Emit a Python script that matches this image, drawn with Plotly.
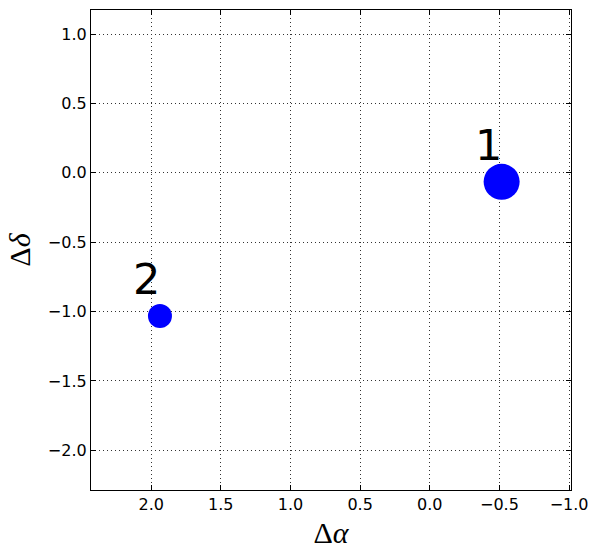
import plotly.graph_objects as go

# Data
labels = ["1", "2"]
delta_alpha = [-0.516, 1.937]
delta_delta = [-0.065, -1.032]
marker_diam = [36, 24]

x_ticks = [2.0, 1.5, 1.0, 0.5, 0.0, -0.5, -1.0]
y_ticks = [1.0, 0.5, 0.0, -0.5, -1.0, -1.5, -2.0]

fig = go.Figure()
fig.add_trace(go.Scatter(
    x=delta_alpha, y=delta_delta, mode="markers",
    marker=dict(size=marker_diam, color="#0000FF", opacity=1, line=dict(width=0)),
    opacity=1, showlegend=False, cliponaxis=False,
))

for lab, xv, yv in zip(labels, delta_alpha, delta_delta):
    fig.add_annotation(
        x=xv, y=yv, text=lab, showarrow=False,
        xanchor="left", yanchor="bottom",
        xshift=-29, yshift=10,
        font=dict(family="DejaVu Sans", size=43, color="black"),
    )

axis_common = dict(
    showline=True, linecolor="black", linewidth=1.2, mirror="allticks",
    ticks="inside", ticklen=5, tickwidth=1, tickcolor="black",
    showgrid=True, gridcolor="#333333", gridwidth=1, griddash="1px,3px",
    zeroline=False, tickformat=".1f",
    tickfont=dict(family="DejaVu Sans", size=16, color="black"),
)

fig.update_xaxes(
    range=[2.432, -1.014], tickvals=x_ticks,
    title=dict(text="Δ<i>α</i>", font=dict(family="Liberation Serif", size=30, color="black"), standoff=8),
    **axis_common,
)
fig.update_yaxes(
    range=[-2.286, 1.173], tickvals=y_ticks,
    title=dict(text="Δ<i>δ</i>", font=dict(family="Liberation Serif", size=30, color="black"), standoff=8),
    **axis_common,
)

fig.update_layout(
    width=597, height=558,
    margin=dict(l=91, r=26, t=10, b=68),
    plot_bgcolor="white", paper_bgcolor="white",
)

fig.write_html("out.html", config={"displayModeBar": False},
               post_script="document.body.style.margin='0';")
